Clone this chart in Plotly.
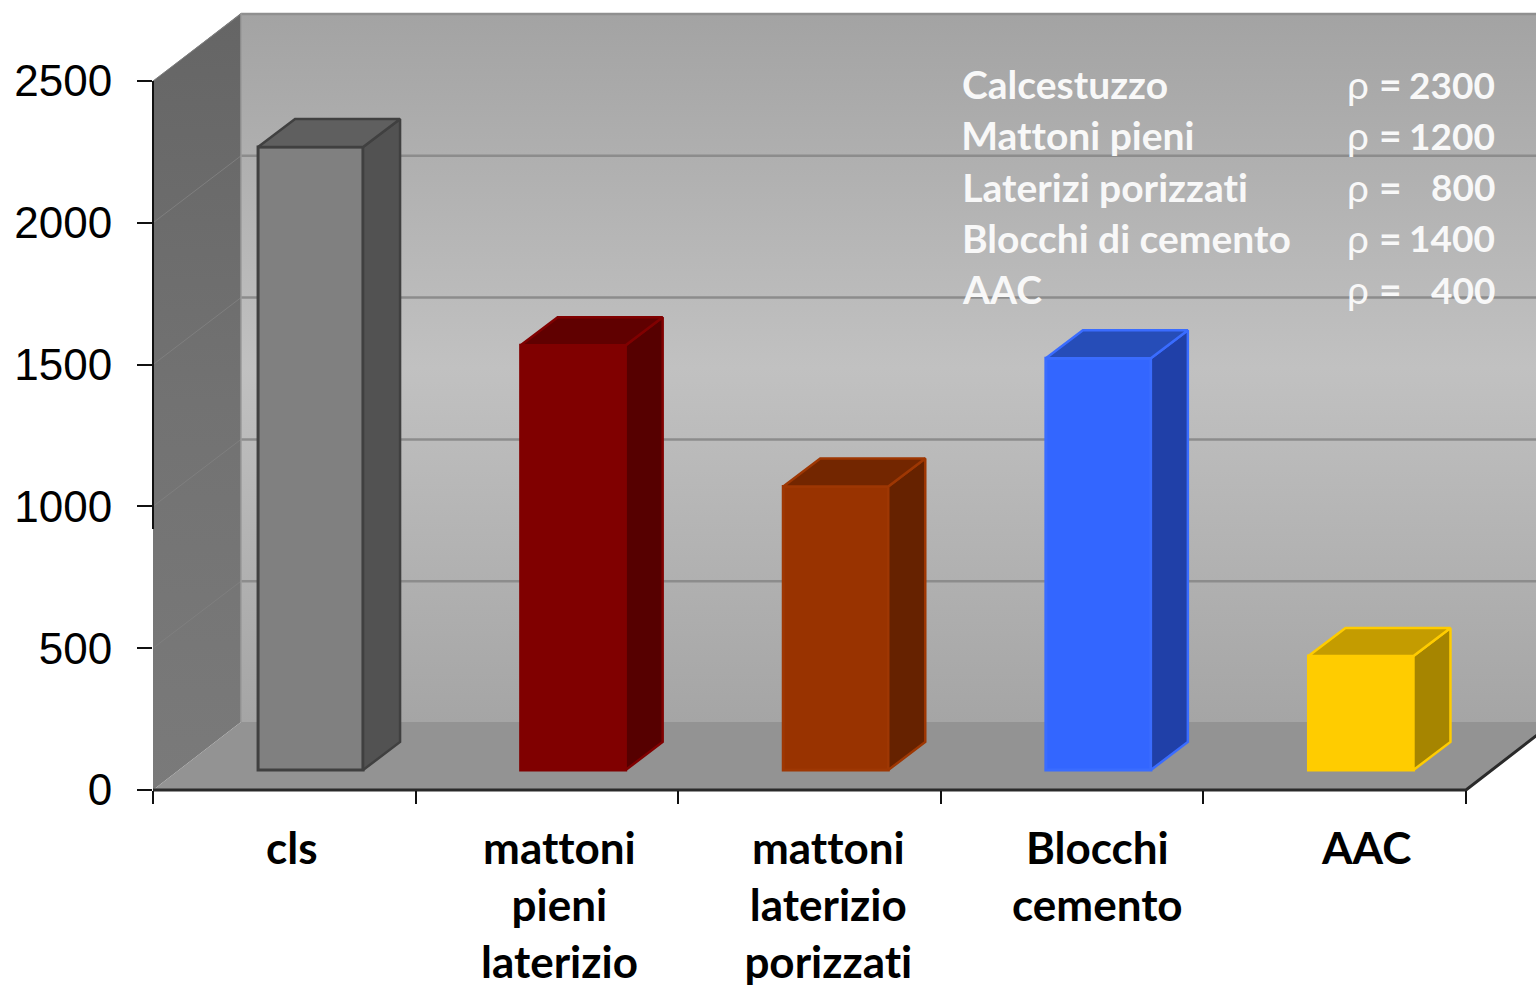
import plotly.graph_objects as go

# ---- data ----
categories = ["cls", "mattoni<br>pieni<br>laterizio", "mattoni<br>laterizio<br>porizzati", "Blocchi<br>cemento", "AAC"]
values = [2197, 1498, 1000, 1452, 402]
y_ticks = [0, 500, 1000, 1500, 2000, 2500]
materials = ["Calcestuzzo", "Mattoni pieni", "Laterizi porizzati", "Blocchi di cemento", "AAC"]
densities = [2300, 1200, 800, 1400, 400]

# ---- style ----
front = ["#808080", "#800000", "#993300", "#3366FF", "#FFCC00"]
side = ["#525252", "#560000", "#662200", "#2040A8", "#A68500"]
top = ["#5F5F5F", "#600000", "#732600", "#264DB8", "#C49C00"]
edge = ["#404040", "#800000", "#9E3703", "#3A6CFF", "#FFCC00"]

W, H = 1536, 986
X0, X1, Y0, Y1 = 153, 1466, 790, 81      # pixel frame of the axes
N = len(categories)
ux = (X1 - X0) / N                       # px per category
uy = (Y0 - Y1) / 2500                    # px per value unit
x_range = [-X0 / ux, (W - X0) / ux]
y_range = [-(H - Y0) / uy, Y0 / uy]

wall_dx, wall_dy = 88 / ux, 68 / uy      # chart depth
grid_dy = 67 / uy
bar_dx, bar_dy = 37 / ux, 28 / uy        # bar depth
base = 20 / uy                           # bars stand inside the floor
centre = 0.6
bar_w = 105 / ux

fig = go.Figure()


def poly(xs, ys, color=None, grad=None, line=None, lw=0, axes=("x", "y")):
    t = dict(x=xs, y=ys, mode="lines", fill="toself", hoverinfo="skip", showlegend=False,
             xaxis=axes[0], yaxis=axes[1],
             line=dict(color=line or "rgba(0,0,0,0)", width=lw))
    if grad:
        t["fillgradient"] = dict(type="vertical", colorscale=grad)
    else:
        t["fillcolor"] = color
    fig.add_trace(go.Scatter(**t))


right = x_range[1] + 1
# back wall
poly([wall_dx, right, right, wall_dx, wall_dx],
     [wall_dy, wall_dy, 2500 + wall_dy, 2500 + wall_dy, wall_dy],
     grad=[[0, "#A5A5A5"], [0.5, "#C1C1C1"], [1, "#A3A3A3"]])
# side wall
poly([0, wall_dx, wall_dx, 0, 0], [0, wall_dy, 2500 + wall_dy, 2500, 0],
     grad=[[0, "#7A7A7A"], [0.5, "#727272"], [1, "#656565"]])
# floor
poly([0, wall_dx, right, right, N, 0], [0, wall_dy, wall_dy, 0, 0, 0], color="#939393")
# white corner right of the floor edge
poly([N, N + wall_dx, right, right, N], [0, wall_dy, wall_dy, -300, -300], color="#FFFFFF")

# grid lines
for v in y_ticks[1:]:
    fig.add_trace(go.Scatter(x=[wall_dx, right], y=[v + grid_dy, v + grid_dy], mode="lines",
                             line=dict(color="#8C8C8C" if v < 2500 else "#8F8F8F", width=2.5),
                             hoverinfo="skip", showlegend=False))
    fig.add_trace(go.Scatter(x=[0, wall_dx], y=[v, v + grid_dy], mode="lines",
                             line=dict(color="#7F7F7F", width=1),
                             hoverinfo="skip", showlegend=False))
# outer edges of the walls
fig.add_trace(go.Scatter(x=[wall_dx, wall_dx], y=[wall_dy, 2500 + wall_dy], mode="lines",
                         line=dict(color="#9A9A9A", width=1.5), hoverinfo="skip", showlegend=False))
fig.add_trace(go.Scatter(x=[0, N, N + wall_dx], y=[0, 0, wall_dy], mode="lines",
                         line=dict(color="#2A2A2A", width=3), hoverinfo="skip", showlegend=False))
fig.add_trace(go.Scatter(x=[0, 0], y=[920, 2500], mode="lines",
                         line=dict(color="#111111", width=2), hoverinfo="skip", showlegend=False))

# bars, on a layer above the walls
xs = [i + centre for i in range(N)]
fig.add_trace(go.Bar(x=xs, y=values, base=[base] * N, width=bar_w, xaxis="x2", yaxis="y2",
                     marker=dict(color=front, line=dict(color=edge, width=3)),
                     hoverinfo="skip", showlegend=False))
ax2 = ("x2", "y2")
for i, v in enumerate(values):
    l, r = xs[i] - bar_w / 2, xs[i] + bar_w / 2
    t_ = base + v
    poly([r, r + bar_dx, r + bar_dx, r, r],
         [base, base + bar_dy, t_ + bar_dy, t_, base],
         color=side[i], line=edge[i], lw=2.5, axes=ax2)
    poly([l, l + bar_dx, r + bar_dx, r, l],
         [t_, t_ + bar_dy, t_ + bar_dy, t_, t_],
         color=top[i], line=edge[i], lw=2.5, axes=ax2)

# axes frame with ticks only
fig.add_trace(go.Scatter(x=[0, N], y=[0, 2500], mode="markers", marker=dict(opacity=0),
                         xaxis="x3", yaxis="y3", hoverinfo="skip", showlegend=False))

hidden = dict(visible=False, showgrid=False, zeroline=False, fixedrange=True)
fig.update_layout(
    width=W, height=H, margin=dict(l=0, r=0, t=0, b=0, pad=0, autoexpand=False),
    paper_bgcolor="white", plot_bgcolor="rgba(0,0,0,0)", showlegend=False,
    xaxis=dict(range=x_range, domain=[0, 1], anchor="y", **hidden),
    yaxis=dict(range=y_range, domain=[0, 1], anchor="x", **hidden),
    xaxis2=dict(range=x_range, domain=[0, 1], anchor="y2", **hidden),
    yaxis2=dict(range=y_range, domain=[0, 1], anchor="x2", **hidden),
    xaxis3=dict(range=[0, N], domain=[X0 / W, X1 / W], anchor="y3", tickvals=list(range(N + 1)),
                showticklabels=False, ticks="outside", ticklen=13, tickwidth=2, tickcolor="#111111",
                showgrid=False, zeroline=False, showline=False, fixedrange=True),
    yaxis3=dict(range=[0, 2500], domain=[(H - Y0) / H, (H - Y1) / H], anchor="x3", tickvals=y_ticks,
                ticks="outside", ticklen=15, tickwidth=2, tickcolor="#111111", ticklabelstandoff=16,
                tickfont=dict(family="Liberation Sans", size=44, color="#000000"),
                showgrid=False, zeroline=False, showline=False, fixedrange=True),
)

# category labels
for i, c in enumerate(categories):
    fig.add_annotation(xref="paper", yref="paper", x=(291 + i * 268.75) / W, y=1 - 819.5 / H,
                       text=f"<b>{c}</b>", showarrow=False, xanchor="center", yanchor="top",
                       align="center", borderpad=0,
                       font=dict(family="Lato", size=44, color="#000000"))

# density table
for i, (m, d) in enumerate(zip(materials, densities)):
    yc = (84 + i * 51.25) / H
    txt = dict(xref="paper", yref="paper", y=1 - yc, showarrow=False, yanchor="middle", borderpad=0,
               font=dict(family="Lato", size=39, color="#F8F8F8"))
    fig.add_annotation(x=961 / W, text=f"<b>{m}</b>", xanchor="left", **txt)
    fig.add_annotation(x=1346 / W, text="ρ", xanchor="left", **txt)
    fig.add_annotation(x=1378 / W, text="<b>=</b>", xanchor="left", **txt)
    fig.add_annotation(x=1496 / W, text=f"<b>{d}</b>", xanchor="right",
                       **{**txt, "font": dict(family="Lato", size=37, color="#F8F8F8")})

css = ("document.body.style.margin='0';document.body.style.overflow='hidden';"
       "var s=document.createElement('style');"
       "s.textContent='svg text,svg tspan{font-variant-ligatures:none!important;"
       "font-feature-settings:\"liga\" 0,\"clig\" 0,\"dlig\" 0!important}';"
       "document.head.appendChild(s);")
fig.write_html("out.html", post_script=css, config={"displayModeBar": False})
